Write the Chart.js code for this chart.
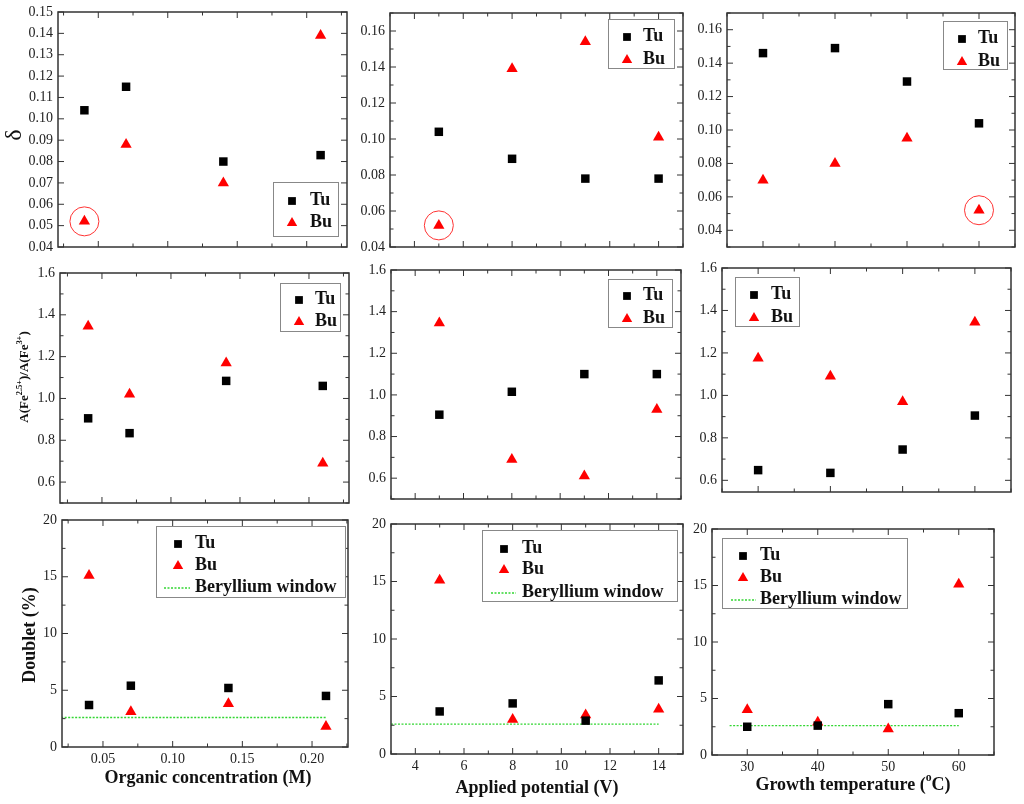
<!DOCTYPE html>
<html>
<head>
<meta charset="utf-8">
<script src="https://cdn.jsdelivr.net/npm/chart.js@4.4.0/dist/chart.umd.min.js"></script>
<style>
  body { margin: 0; background: #fff; width: 1024px; height: 804px; position: relative; overflow: hidden; }
  canvas { position: absolute; }
</style>
</head>
<body>
<script>
// x values of the three series of experiments
const concX = [0.04, 0.07, 0.14, 0.21];
const potentialX = [5, 8, 11, 14];
const tempX = [30, 40, 50, 60];

// delta
const deltaConcTu = [0.104, 0.115, 0.080, 0.083];
const deltaConcBu = [0.052, 0.088, 0.070, 0.139];
const deltaPotTu = [0.104, 0.089, 0.078, 0.078];
const deltaPotBu = [0.052, 0.139, 0.154, 0.101];
const deltaTempTu = [0.146, 0.149, 0.129, 0.104];
const deltaTempBu = [0.070, 0.080, 0.095, 0.052];

// A(Fe2.5+)/A(Fe3+)
const ratioConcTu = [0.905, 0.834, 1.084, 1.060];
const ratioConcBu = [1.345, 1.02, 1.17, 0.69];
const ratioPotTu = [0.905, 1.015, 1.10, 1.10];
const ratioPotBu = [1.345, 0.69, 0.61, 0.93];
const ratioTempTu = [0.648, 0.635, 0.745, 0.905];
const ratioTempBu = [1.175, 1.09, 0.97, 1.345];

// doublet (%)
const doubletConcTu = [3.7, 5.4, 5.2, 4.5];
const doubletConcBu = [15.1, 3.1, 3.8, 1.8];
const doubletPotTu = [3.7, 4.4, 2.9, 6.4];
const doubletPotBu = [15.1, 3.0, 3.4, 3.9];
const doubletTempTu = [2.5, 2.6, 4.5, 3.7];
const doubletTempBu = [4.0, 2.9, 2.3, 15.1];

// beryllium window level and its extent
const berylliumLevel = 2.6;
const berylliumConcX = [0.02, 0.21];
const berylliumPotX = [3, 14];
const berylliumTempX = [27.5, 60];

const SERIF = "'Liberation Serif', 'Times New Roman', serif";
const BE_GREEN = '#33d633';
Chart.defaults.font.family = SERIF;
Chart.defaults.font.size = 14;
Chart.defaults.color = '#222';

function pts(xs, ys) { return xs.map((x, i) => ({ x: x, y: ys[i] })); }

// ticks only on multiples of step
function stepTicks(step) {
  return function (scale) {
    const out = [];
    const k0 = Math.ceil(scale.min / step - 1e-6), k1 = Math.floor(scale.max / step + 1e-6);
    for (let k = k0; k <= k1; k++) out.push({ value: +(k * step).toFixed(6) });
    scale.ticks = out;
  };
}

// text with superscripts, optionally rotated
function drawRich(ctx, parts, x, y, size, weight, rotate) {
  ctx.save();
  ctx.translate(x, y);
  if (rotate) ctx.rotate(-Math.PI / 2);
  ctx.textBaseline = 'middle';
  ctx.textAlign = 'left';
  ctx.fillStyle = '#111';
  let total = 0;
  parts.forEach(p => {
    ctx.font = weight + ' ' + (p.sup ? size * 0.65 : size) + 'px ' + SERIF;
    total += ctx.measureText(p.t).width;
  });
  let cx = -total / 2;
  parts.forEach(p => {
    ctx.font = weight + ' ' + (p.sup ? size * 0.65 : size) + 'px ' + SERIF;
    ctx.fillText(p.t, cx, p.sup ? -size * 0.38 : 0);
    cx += ctx.measureText(p.t).width;
  });
  ctx.restore();
}

function tickMarks(ctx, scale, a, horizontal, step, minor) {
  const half = step / 2;
  const k0 = Math.ceil(scale.min / half - 1e-6), k1 = Math.floor(scale.max / half + 1e-6);
  for (let k = k0; k <= k1; k++) {
    const major = k % 2 === 0;
    if (!major && !minor) continue;
    const len = major ? 6 : 3.5;
    const p = scale.getPixelForValue(k * half);
    ctx.beginPath();
    if (horizontal) {
      ctx.moveTo(p, a.bottom); ctx.lineTo(p, a.bottom - len);
      ctx.moveTo(p, a.top); ctx.lineTo(p, a.top + len);
    } else {
      ctx.moveTo(a.left, p); ctx.lineTo(a.left + len, p);
      ctx.moveTo(a.right, p); ctx.lineTo(a.right - len, p);
    }
    ctx.stroke();
  }
}

const deco = {
  id: 'deco',
  afterDraw(chart, args, o) {
    const ctx = chart.ctx, a = chart.chartArea, ox = o.ox, oy = o.oy;
    ctx.save();
    ctx.strokeStyle = '#333';
    ctx.lineWidth = 1;
    tickMarks(ctx, chart.scales.x, a, true, o.xStep, true);
    tickMarks(ctx, chart.scales.y, a, false, o.yStep, o.yMinor);
    ctx.lineWidth = 1.5;
    ctx.strokeRect(a.left, a.top, a.right - a.left, a.bottom - a.top);

    // legend
    const lg = o.legend;
    const b = lg.box;
    ctx.fillStyle = '#fff';
    ctx.fillRect(b[0] - ox, b[1] - oy, b[2] - b[0], b[3] - b[1]);
    ctx.strokeStyle = '#888';
    ctx.lineWidth = 1;
    ctx.strokeRect(b[0] - ox + 0.5, b[1] - oy + 0.5, b[2] - b[0], b[3] - b[1]);
    const items = chart.data.datasets.filter(d => d.inLegend);
    items.forEach((d, i) => {
      const y = lg.rows[i] - oy;
      if (d.showLine) {
        ctx.strokeStyle = d.borderColor;
        ctx.lineWidth = 1.3;
        ctx.setLineDash([2, 1.5]);
        ctx.beginPath();
        ctx.moveTo(lg.line[0] - ox, y + 1); ctx.lineTo(lg.line[1] - ox, y + 1);
        ctx.stroke();
        ctx.setLineDash([]);
      } else {
        ctx.fillStyle = d.backgroundColor;
        Chart.helpers.drawPoint(ctx, { pointStyle: d.pointStyle, radius: d.pointStyle === 'triangle' ? 6 : 5.5, rotation: 0, borderWidth: 0 }, lg.mx - ox, y + 1);
      }
      ctx.fillStyle = '#111';
      ctx.font = 'bold 18px ' + SERIF;
      ctx.textBaseline = 'middle';
      ctx.textAlign = 'left';
      ctx.fillText(d.label, lg.tx - ox, y);
    });

    if (o.ytitle) drawRich(ctx, o.ytitle.parts, o.ytitle.x - ox, o.ytitle.y - oy, o.ytitle.size, o.ytitle.weight, true);
    if (o.xtitle) drawRich(ctx, o.xtitle.parts, o.xtitle.x - ox, o.xtitle.y - oy, o.xtitle.size, 'bold', false);
    ctx.restore();
  }
};

const panels = [
  { c: [0, 0, 352, 258], area: [58, 12, 347, 247], x: [0.021, 0.229, 0.05, 2], y: [0.04, 0.15, 0.01, 2], yMinor: false,
    xs: concX, tu: deltaConcTu, bu: deltaConcBu, circle: 0,
    legend: { box: [273, 182, 338, 236], mx: 292, tx: 310, rows: [200, 222] },
    ytitle: { parts: [{ t: 'δ' }], x: 15, y: 135, size: 24, weight: 'normal' } },
  { c: [345, 0, 345, 258], area: [390, 13, 683, 247], x: [3, 15, 2, 0], y: [0.04, 0.17, 0.02, 2], yMinor: true,
    xs: potentialX, tu: deltaPotTu, bu: deltaPotBu, circle: 0,
    legend: { box: [608, 19, 674, 68], mx: 627, tx: 643, rows: [36, 59] } },
  { c: [670, 0, 354, 258], area: [727, 13, 1015, 247], x: [25, 65, 10, 0], y: [0.03, 0.17, 0.02, 2], yMinor: true,
    xs: tempX, tu: deltaTempTu, bu: deltaTempBu, circle: 3,
    legend: { box: [943, 21, 1007, 69], mx: 962, tx: 978, rows: [38, 61] } },

  { c: [0, 258, 352, 252], area: [60, 273, 349, 503], x: [0.0196, 0.229, 0.05, 2], y: [0.5, 1.6, 0.2, 1], yMinor: true,
    xs: concX, tu: ratioConcTu, bu: ratioConcBu,
    legend: { box: [280, 283, 340, 331], mx: 299, tx: 315, rows: [299, 321] },
    ytitle: { parts: [{ t: 'A(Fe' }, { t: '2.5+', sup: true }, { t: ')/A(Fe' }, { t: '3+', sup: true }, { t: ')' }], x: 25, y: 377, size: 13, weight: 'bold' } },
  { c: [345, 258, 345, 252], area: [391, 270, 681, 499], x: [3, 15, 2, 0], y: [0.5, 1.6, 0.2, 1], yMinor: true,
    xs: potentialX, tu: ratioPotTu, bu: ratioPotBu,
    legend: { box: [608, 279, 672, 327], mx: 627, tx: 643, rows: [295, 318] } },
  { c: [670, 258, 354, 252], area: [722, 268, 1011, 492], x: [25, 65, 10, 0], y: [0.545, 1.6, 0.2, 1], yMinor: true,
    xs: tempX, tu: ratioTempTu, bu: ratioTempBu,
    legend: { box: [735, 277, 799, 326], mx: 754, tx: 771, rows: [294, 317] } },

  { c: [0, 510, 352, 294], area: [62, 520, 348, 747], x: [0.0206, 0.2258, 0.05, 2], y: [0, 20, 5, 0], yMinor: true, xLabels: true,
    xs: concX, tu: doubletConcTu, bu: doubletConcBu, be: berylliumConcX,
    legend: { box: [156, 526, 345, 597], mx: 178, tx: 195, rows: [543, 565, 587], line: [164, 190] },
    ytitle: { parts: [{ t: 'Doublet (%)' }], x: 30, y: 635, size: 18, weight: 'bold' },
    xtitle: { parts: [{ t: 'Organic concentration (M)' }], x: 208, y: 778, size: 18 } },
  { c: [345, 510, 345, 294], area: [391, 524, 683, 754], x: [3, 15, 2, 0], y: [0, 20, 5, 0], yMinor: true, xLabels: true,
    xs: potentialX, tu: doubletPotTu, bu: doubletPotBu, be: berylliumPotX,
    legend: { box: [482, 530, 677, 601], mx: 504, tx: 522, rows: [548, 569, 592], line: [491, 516] },
    xtitle: { parts: [{ t: 'Applied potential (V)' }], x: 537, y: 788, size: 18 } },
  { c: [670, 510, 354, 294], area: [712, 529, 994, 755], x: [25, 65, 10, 0], y: [0, 20, 5, 0], yMinor: true, xLabels: true,
    xs: tempX, tu: doubletTempTu, bu: doubletTempBu, be: berylliumTempX,
    legend: { box: [722, 538, 907, 608], mx: 743, tx: 760, rows: [555, 577, 599], line: [731, 756] },
    xtitle: { parts: [{ t: 'Growth temperature (' }, { t: 'o', sup: true }, { t: 'C)' }], x: 853, y: 785, size: 18 } }
];

const Y_W = 40;

panels.forEach(p => {
  const cv = document.createElement('canvas');
  cv.width = p.c[2];
  cv.height = p.c[3];
  cv.style.left = p.c[0] + 'px';
  cv.style.top = p.c[1] + 'px';
  document.body.appendChild(cv);

  const xH = p.xLabels ? 24 : 0;
  const datasets = [
    { label: 'Tu', inLegend: true, data: pts(p.xs, p.tu), pointStyle: 'rect', pointRadius: 6,
      backgroundColor: '#000', borderColor: '#000', pointBorderWidth: 0 },
    { label: 'Bu', inLegend: true, data: pts(p.xs, p.bu), pointStyle: 'triangle', pointRadius: 6.5,
      backgroundColor: '#ff0000', borderColor: '#ff0000', pointBorderWidth: 0 }
  ];
  if (p.be) {
    datasets.push({ label: 'Beryllium window', inLegend: true, showLine: true, pointRadius: 0,
      data: p.be.map(x => ({ x: x, y: berylliumLevel })),
      borderColor: BE_GREEN, borderWidth: 1.3, borderDash: [2, 1.5] });
  }
  if (p.circle !== undefined) {
    datasets.push({ label: 'circled', inLegend: false,
      data: [{ x: p.xs[p.circle], y: p.bu[p.circle] }], pointStyle: 'circle', pointRadius: 14.5,
      backgroundColor: 'rgba(0,0,0,0)', borderColor: '#ff3333', pointBorderWidth: 1 });
  }

  new Chart(cv, {
    type: 'scatter',
    data: { datasets: datasets },
    options: {
      responsive: false,
      animation: false,
      events: [],
      layout: {
        autoPadding: false,
        padding: {
          left: p.area[0] - p.c[0] - Y_W,
          top: p.area[1] - p.c[1],
          right: p.c[0] + p.c[2] - p.area[2],
          bottom: p.c[1] + p.c[3] - p.area[3] - xH
        }
      },
      scales: {
        x: {
          type: 'linear', min: p.x[0], max: p.x[1],
          grid: { display: false, drawTicks: false }, border: { display: false },
          ticks: { display: !!p.xLabels, padding: 4, callback: v => Number(v).toFixed(p.x[3]) },
          afterBuildTicks: stepTicks(p.x[2]),
          afterFit: s => { s.height = xH; s.paddingLeft = 0; s.paddingRight = 0; }
        },
        y: {
          type: 'linear', min: p.y[0], max: p.y[1],
          grid: { display: false, drawTicks: false }, border: { display: false },
          ticks: { padding: 5, callback: v => Number(v).toFixed(p.y[3]) },
          afterBuildTicks: stepTicks(p.y[2]),
          afterFit: s => { s.width = Y_W; s.paddingTop = 0; s.paddingBottom = 0; }
        }
      },
      plugins: {
        legend: { display: false },
        tooltip: { enabled: false },
        deco: {
          ox: p.c[0], oy: p.c[1], xStep: p.x[2], yStep: p.y[2], yMinor: p.yMinor,
          legend: p.legend, ytitle: p.ytitle, xtitle: p.xtitle
        }
      }
    },
    plugins: [deco]
  });
});
</script>
</body>
</html>
